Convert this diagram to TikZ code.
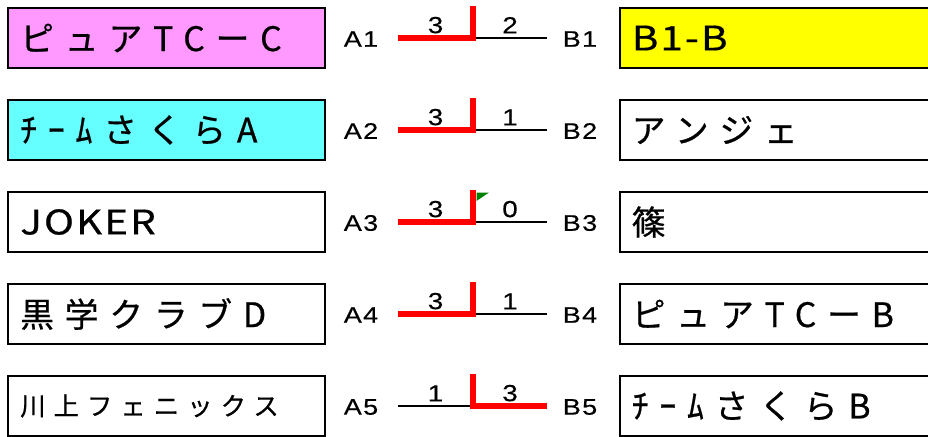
\documentclass[tikz,border=0pt]{standalone}
\usepackage{fontspec}
\setmainfont{Liberation Sans}
\newfontfamily\jpwide[LetterSpace=32, FakeBold=0.6]{Noto Sans CJK JP}
\newfontfamily\jpnarrow[LetterSpace=6, FakeStretch=1.2, FakeBold=0.6]{Noto Sans CJK JP}
\newfontfamily\labfont[LetterSpace=6, FakeStretch=1.2, FakeBold=0.4]{Liberation Sans}
\usetikzlibrary{positioning}
\definecolor{teampink}{RGB}{255,153,255}
\definecolor{teamcyan}{RGB}{102,255,255}
\definecolor{teamyellow}{RGB}{255,255,0}
\definecolor{winred}{RGB}{255,0,0}
\definecolor{notegreen}{RGB}{0,128,0}
\tikzset{
  team/.style={draw, line width=1.6pt, minimum height=1.49cm, text width=7.31cm,
    inner xsep=0.3cm, align=left, font=\jpwide\fontsize{24pt}{28pt}\selectfont},
  latin/.style={font=\jpnarrow\fontsize{24pt}{28pt}\selectfont},
  seat/.style={font=\labfont\fontsize{16pt}{18pt}\selectfont, inner sep=0pt},
  score/.style={above, inner sep=2.8pt, font=\labfont\fontsize{16.5pt}{18pt}\selectfont},
  tie/.style={line width=1.05pt},
  win/.style={line width=4.6pt, winred, miter limit=4},
}

\begin{document}
\begin{tikzpicture}[x=0.025cm, y=-0.025cm]
\path[use as bounding box, clip] (0,0) rectangle (928,436);

% teams on the left
\node[team, fill=teampink] (l1) at (166.5,38) {ピュアTCーC};
\node[team, fill=teamcyan] (l2) at (166.5,130) {ﾁｰﾑさくらA};
\node[team, latin] (l3) at (166.5,222) {JOKER};
\node[team] (l4) at (166.5,314) {黒学クラブD};
\node[team, font=\jpwide\fontsize{18pt}{20pt}\selectfont] (l5) at (166.5,406) {川上フェニックス};

% teams on the right
\node[team, latin, fill=teamyellow] (r1) at (778,38) {B1-B};
\node[team] (r2) at (778,130) {アンジェ};
\node[team] (r3) at (778,222) {篠};
\node[team] (r4) at (778,314) {ピュアTCーB};
\node[team] (r5) at (778,406) {ﾁｰﾑさくらB};

% seats
\node[seat] (a1) at (361,39) {A1};
\node[seat] (a2) at (361,131) {A2};
\node[seat] (a3) at (361,223) {A3};
\node[seat] (a4) at (361,315) {A4};
\node[seat] (a5) at (361,407) {A5};
\node[seat] (b1) at (580,39) {B1};
\node[seat] (b2) at (580,131) {B2};
\node[seat] (b3) at (580,223) {B3};
\node[seat] (b4) at (580,315) {B4};
\node[seat] (b5) at (580,407) {B5};

% bracket ends
\coordinate (p1) at (398,38);  \coordinate (m1) at (473,38);  \coordinate (q1) at (547,38);  \coordinate (t1) at (473,6);
\coordinate (p2) at (398,130); \coordinate (m2) at (473,130); \coordinate (q2) at (547,130); \coordinate (t2) at (473,98);
\coordinate (p3) at (398,222); \coordinate (m3) at (473,222); \coordinate (q3) at (547,222); \coordinate (t3) at (473,190);
\coordinate (p4) at (398,314); \coordinate (m4) at (473,314); \coordinate (q4) at (547,314); \coordinate (t4) at (473,282);
\coordinate (p5) at (398,406); \coordinate (m5) at (473,406); \coordinate (q5) at (547,406); \coordinate (t5) at (473,374);

\draw[tie] (p1) -- node[score] {3} (m1) -- node[score] {2} (q1);
\draw[tie] (p2) -- node[score] {3} (m2) -- node[score] {1} (q2);
\draw[tie] (p3) -- node[score] {3} (m3) -- node[score] {0} (q3);
\draw[tie] (p4) -- node[score] {3} (m4) -- node[score] {1} (q4);
\draw[tie] (p5) -- node[score] {1} (m5) -- node[score] {3} (q5);

% winners
\draw[win] (p1) -- (m1) -- (t1);
\draw[win] (p2) -- (m2) -- (t2);
\draw[win] (p3) -- (m3) -- (t3);
\draw[win] (p4) -- (m4) -- (t4);
\draw[win] (q5) -- (m5) -- (t5);

%\fill (477,193) -- (489,193) -- (477,201) -- cycle;
\fill[notegreen] (476.5,192.5) -- (489,192.5) -- (476.5,201) -- cycle;
\end{tikzpicture}
\end{document}
